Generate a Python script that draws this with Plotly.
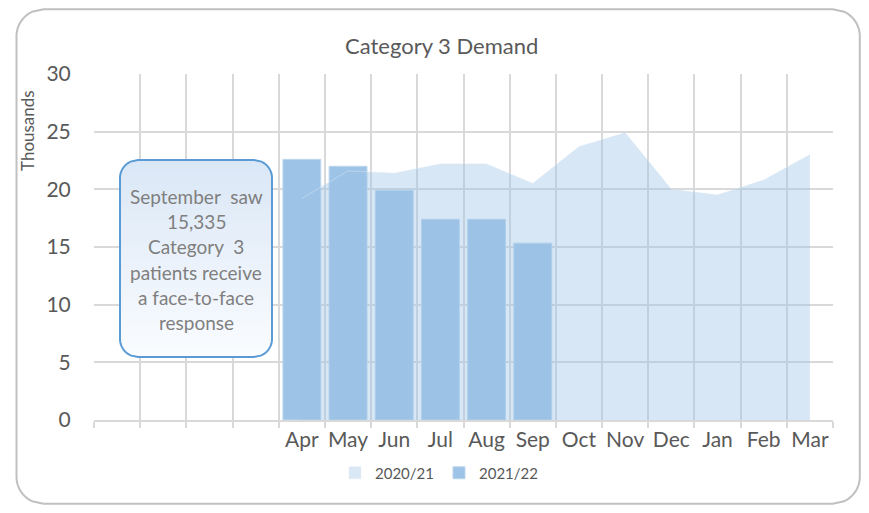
import math
import plotly.graph_objects as go

# page body has an 8px default margin, so the figure starts 8px in; keep it inside the window
OFF = 8
W, H = 869 - 2 * OFF, 513 - 2 * OFF

# ---------------- data ----------------
blank_slots = [" ", "  ", "   ", "    "]
months = ["Apr", "May", "Jun", "Jul", "Aug", "Sep", "Oct", "Nov", "Dec", "Jan", "Feb", "Mar"]
demand_2020_21 = [19.2, 21.6, 21.4, 22.2, 22.2, 20.5, 23.7, 24.9, 20.0, 19.5, 20.8, 23.0]
bar_months_2021_22 = ["Apr", "May", "Jun", "Jul", "Aug", "Sep"]
demand_2021_22 = [22.6, 22.0, 19.9, 17.4, 17.4, 15.335]
series_names = ["2020/21", "2021/22"]
title_text = "Category 3 Demand"
y_title = "Thousands"
box_lines = ["September  saw", "15,335", "Category  3", "patients receive", "a face-to-face", "response"]

FONT = "Lato, 'Open Sans', sans-serif"
GREY = "#595959"
AREA_FILL = "rgba(155,194,230,0.40)"
BAR_FILL = "#9DC3E6"

fig = go.Figure()
fig.add_trace(go.Scatter(
    x=months, y=demand_2020_21, name=series_names[0], mode="lines",
    line=dict(width=0.5, color="rgba(214,230,244,1)"),
    fill="tozeroy", fillcolor=AREA_FILL, showlegend=False,
    hoverinfo="x+y",
))
# legend proxy for the area series (square swatch as in the original)
fig.add_trace(go.Bar(
    x=[months[0]], y=[None], name=series_names[0],
    marker=dict(color="#DAE8F5"), showlegend=True, hoverinfo="skip",
))
fig.add_trace(go.Bar(
    x=bar_months_2021_22, y=demand_2021_22, name=series_names[1],
    marker=dict(color=BAR_FILL, line=dict(color="#BDD7EE", width=1)),
))


def px(x, y):
    return (x - OFF) / W, 1 - (y - OFF) / H


def rr_x(y, x0, y0, x1, y1, r):
    if y < y0 + r:
        dy = y0 + r - y
    elif y > y1 - r:
        dy = y - (y1 - r)
    else:
        dy = 0.0
    dy = min(dy, r)
    off = r - math.sqrt(max(r * r - dy * dy, 0.0))
    return x0 + off, x1 - off


def slice_path(x0, y0, x1, y1, r, ya, yb, n=24):
    ys = [ya + (yb - ya) * i / n for i in range(n + 1)]
    left, right = [], []
    for y in ys:
        l, rr = rr_x(y, x0, y0, x1, y1, r)
        left.append((l, y))
        right.append((rr, y))
    pts = left + right[::-1]
    s = ""
    for i, (x, y) in enumerate(pts):
        fx, fy = px(x, y)
        s += ("M" if i == 0 else "L") + f"{fx:.5f},{fy:.5f} "
    return s + "Z"


shapes = []
bx0, by0, bx1, by1, br = 120, 160, 272, 357, 18
top_c = (218, 231, 246)
bot_c = (250, 252, 255)
N = 40
for k in range(N):
    t = (k + 0.5) / N
    c = tuple(int(round(top_c[i] + (bot_c[i] - top_c[i]) * t)) for i in range(3))
    ya = by0 + (by1 - by0) * k / N
    shapes.append(dict(type="path", xref="paper", yref="paper",
                       path=slice_path(bx0, by0, bx1, by1, br, ya, by1, n=60),
                       fillcolor=f"rgb{c}", line=dict(width=0), layer="above"))
shapes.append(dict(type="path", xref="paper", yref="paper",
                   path=slice_path(bx0, by0, bx1, by1, br, by0, by1, n=120),
                   fillcolor="rgba(0,0,0,0)", line=dict(color="#5B9BD5", width=2), layer="above"))
# outer chart border (kept inside the visible figure area)
shapes.append(dict(type="path", xref="paper", yref="paper",
                   path=slice_path(16.5, 9.2, 859.8, 503.8, 27, 9.2, 503.8, n=200),
                   fillcolor="rgba(0,0,0,0)", line=dict(color="#C0C0C0", width=2), layer="above"))

annotations = []
line_y = [197, 222, 247, 272, 297, 322]
for txt, yy in zip(box_lines, line_y):
    fx, fy = px(196, yy)
    annotations.append(dict(text=txt.replace("  ", "&nbsp;&nbsp;"), x=fx, y=fy,
                            xref="paper", yref="paper",
                            showarrow=False, xanchor="center", yanchor="middle",
                            font=dict(family=FONT, size=19, color="#7F7F7F")))
fx, fy = px(28, 131)
annotations.append(dict(text=y_title, x=fx, y=fy, xref="paper", yref="paper",
                        showarrow=False, textangle=-90, xanchor="center", yanchor="middle",
                        font=dict(family=FONT, size=17, color=GREY)))
fx, fy = px(441, 45)
annotations.append(dict(text=title_text, x=fx, y=fy, xref="paper", yref="paper",
                        showarrow=False, xanchor="center", yanchor="middle",
                        font=dict(family=FONT, size=22, color=GREY)))

x0d, x1d = px(94, 0)[0], px(833, 0)[0]
y0d, y1d = px(0, 420)[1], px(0, 74)[1]

fig.update_layout(
    width=W, height=H,
    margin=dict(l=0, r=0, t=0, b=0, pad=0, autoexpand=False),
    paper_bgcolor="white", plot_bgcolor="white",
    barmode="overlay", bargap=0.18,
    showlegend=True,
    legend=dict(orientation="h", x=px(439, 0)[0], y=px(0, 473)[1],
                xanchor="center", yanchor="middle",
                font=dict(family=FONT, size=15, color=GREY),
                itemwidth=30, bgcolor="rgba(0,0,0,0)", traceorder="normal"),
    xaxis=dict(
        type="category", categoryorder="array", categoryarray=blank_slots + months,
        range=[-0.5, 15.5], domain=[x0d, x1d], automargin=False,
        tickson="boundaries", showgrid=True, gridcolor="#D9D9D9", gridwidth=1.5,
        ticks="outside", ticklen=6, tickcolor="#D9D9D9", tickwidth=1.5,
        showline=True, linecolor="#D9D9D9", linewidth=2,
        tickangle=0,
        tickfont=dict(family=FONT, size=21, color=GREY),
        fixedrange=True,
    ),
    yaxis=dict(
        range=[0, 30], dtick=5, domain=[y0d, y1d], automargin=False,
        showgrid=True, gridcolor="#D9D9D9", gridwidth=1.5, zeroline=False,
        ticks="outside", ticklen=18, tickcolor="rgba(0,0,0,0)",
        tickfont=dict(family=FONT, size=21, color=GREY),
        fixedrange=True,
    ),
    shapes=shapes,
    annotations=annotations,
)

fig.write_html("out.html")
